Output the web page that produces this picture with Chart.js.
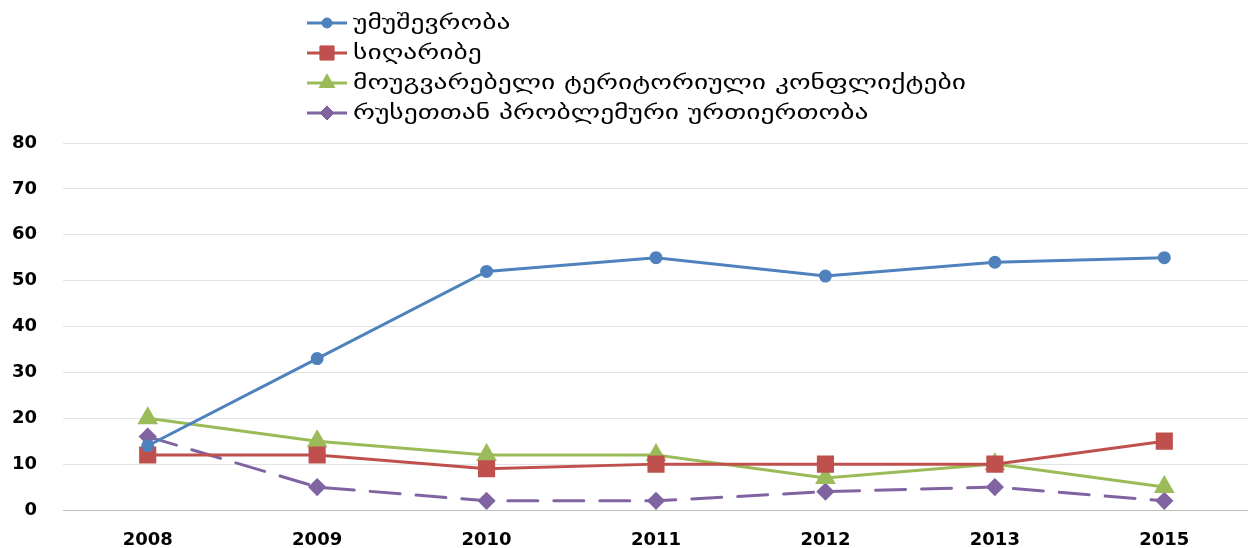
<!DOCTYPE html>
<html>
<head>
<meta charset="utf-8">
<script src="https://cdn.jsdelivr.net/npm/chart.js@4"></script>
<style>
  html, body { margin: 0; padding: 0; background: #fff; overflow: hidden; }
  #chart { display: block; }
</style>
</head>
<body>
<canvas id="chart" width="1262" height="548"></canvas>
<script>
// ცხრილის მონაცემები
var years = ['2008', '2009', '2010', '2011', '2012', '2013', '2015'];
var unemployment = [14, 33, 52, 55, 51, 54, 55];
var poverty = [12, 12, 9, 10, 10, 10, 15];
var conflicts = [20, 15, 12, 12, 7, 10, 5];
var russia = [16, 5, 2, 2, 4, 5, 2];
var seriesNames = [
    'უმუშევრობა',
    'სიღარიბე',
    'მოუგვარებელი ტერიტორიული კონფლიქტები',
    'რუსეთთან პრობლემური ურთიერთობა'
];
var yTicks = [0, 10, 20, 30, 40, 50, 60, 70, 80];

var tickFont = { family: 'DejaVu Sans', size: 18, weight: 'bold' };

// ვერტიკალური ლეგენდა ზედა ნაწილში
var sideLegend = {
    id: 'sideLegend',
    afterDraw: function (chart) {
        var ctx = chart.ctx;
        var x0 = 307, y0 = 23, step = 30;
        chart.data.datasets.forEach(function (ds, i) {
            var y = y0 + i * step;
            ctx.save();
            ctx.strokeStyle = ds.borderColor;
            ctx.lineWidth = 3;
            ctx.beginPath();
            ctx.moveTo(x0, y);
            ctx.lineTo(x0 + 40, y);
            ctx.stroke();
            ctx.fillStyle = ds.backgroundColor;
            ctx.lineWidth = 1;
            Chart.helpers.drawPoint(ctx, {
                pointStyle: ds.pointStyle,
                radius: ds.pointRadius,
                borderWidth: 1
            }, x0 + 20, y);
            // ტექსტი ოდნავ გაწელილია ჰორიზონტალურად, როგორც ორიგინალში
            ctx.translate(x0 + 46, y + 1);
            ctx.scale(1.45, 1);
            ctx.fillStyle = '#000';
            ctx.font = '19px "DejaVu Sans"';
            ctx.textBaseline = 'middle';
            ctx.fillText(ds.label, 0, 0);
            ctx.restore();
        });
    }
};

function makeSet(label, data, color, style, radius, dash) {
    return {
        label: label,
        data: data,
        borderColor: color,
        backgroundColor: color,
        pointBackgroundColor: color,
        pointBorderColor: color,
        pointStyle: style,
        pointRadius: radius,
        pointHoverRadius: radius,
        borderWidth: 3,
        borderDash: dash || [],
        borderCapStyle: 'round',
        tension: 0
    };
}

new Chart(document.getElementById('chart'), {
    type: 'line',
    data: {
        labels: years,
        datasets: [
            makeSet(seriesNames[0], unemployment, '#4F81BD', 'circle', 5),
            makeSet(seriesNames[1], poverty, '#C0504D', 'rect', 10),
            makeSet(seriesNames[2], conflicts, '#9BBB59', 'triangle', 9),
            makeSet(seriesNames[3], russia, '#8064A2', 'rectRot', 7, [30, 16])
        ]
    },
    options: {
        responsive: false,
        animation: false,
        layout: { padding: { top: 143, right: 5, left: 0, bottom: 0 } },
        plugins: {
            legend: { display: false },
            tooltip: { enabled: false },
            title: { display: false }
        },
        scales: {
            x: {
                offset: true,
                afterFit: function (axis) { axis.height = 38; },
                grid: { display: false, drawTicks: false },
                border: { color: '#bfbfbf', width: 1 },
                ticks: { color: '#000', font: tickFont, padding: 20 }
            },
            y: {
                min: 0,
                max: 80,
                afterBuildTicks: function (axis) {
                    axis.ticks = yTicks.map(function (v) { return { value: v }; });
                },
                afterFit: function (axis) { axis.width = 63; },
                grid: {
                    color: function (c) { return c.tick && c.tick.value === 0 ? '#bfbfbf' : '#e3e3e3'; },
                    drawTicks: false
                },
                border: { display: false },
                ticks: { color: '#000', font: tickFont, padding: 26 }
            }
        }
    },
    plugins: [sideLegend]
});
</script>
</body>
</html>
